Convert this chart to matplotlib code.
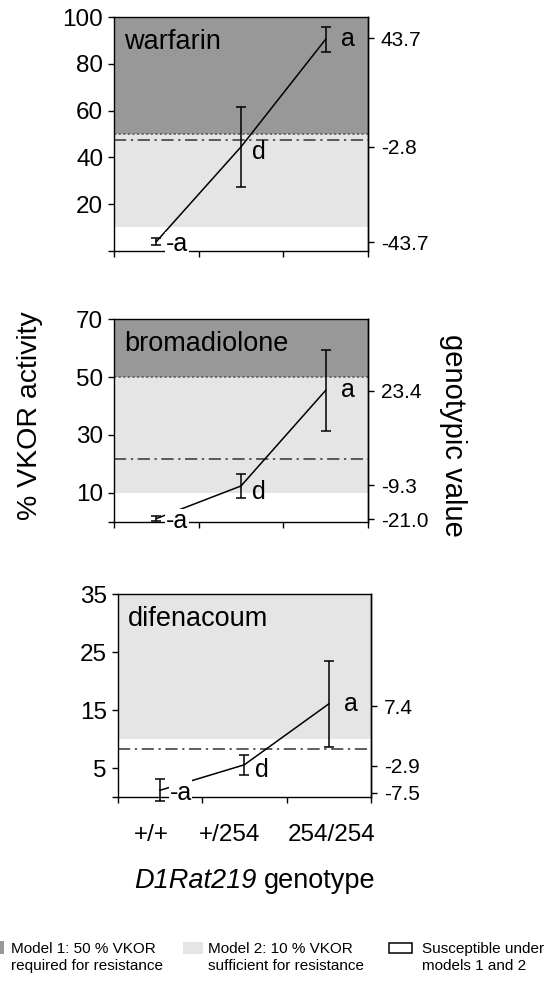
import numpy as np
import matplotlib.pyplot as plt
from matplotlib.patches import Rectangle

plt.rcParams['font.family'] = ['Liberation Sans', 'DejaVu Sans']

# data
genotypes = ['+/+', '+/254', '254/254']
drugs = ['warfarin', 'bromadiolone', 'difenacoum']
vkor_mean = [[3.9, 44.5, 90.6], [1.0, 12.3, 45.4], [1.2, 5.6, 16.1]]
vkor_err = [[1.5, 17.0, 5.4], [0.8, 4.3, 14.0], [1.9, 1.7, 7.4]]
midpoint = [47.3, 21.8, 8.3]
genotypic_value = [[-43.7, -2.8, 43.7], [-21.0, -9.3, 23.4], [-7.5, -2.9, 7.4]]
effect_labels = ['-a', 'd', 'a']
y_max = [100, 70, 35]
y_ticks = [[0, 20, 40, 60, 80, 100], [0, 10, 30, 50, 70], [0, 5, 15, 25, 35]]
model1_threshold = 50
model2_threshold = 10
legend_labels = ['Model 1: 50 % VKOR\nrequired for resistance',
                 'Model 2: 10 % VKOR\nsufficient for resistance',
                 'Susceptible under\nmodels 1 and 2']

dark = '#989898'
light = '#e5e5e5'
W, H = 554, 983

fig = plt.figure(figsize=(W / 100, H / 100), dpi=100)

# axes boxes in pixels: left, top, right, bottom
boxes = [[114, 17.3, 368, 250.7], [114, 319.3, 368, 521.5], [117.5, 594.3, 371, 797.3]]
offsets = [(7, -2), (8, -4), (11, 0)]
genotype_label_pos = [0.40, 1.33, 2.53]   # hand-placed in the original

for i, drug in enumerate(drugs):
    l, t, r, b = boxes[i]
    ax = fig.add_axes([l / W, 1 - b / H, (r - l) / W, (b - t) / H])
    ax.set_xlim(0, 3)
    ax.set_ylim(0, y_max[i])

    # resistance zones
    ax.axhspan(model1_threshold, y_max[i], color=dark, lw=0, zorder=0)
    ax.axhspan(model2_threshold, model1_threshold, color=light, lw=0, zorder=0)
    ax.axhline(model1_threshold, color='#555555', ls=(0, (1.5, 1.5)), lw=1.1)
    ax.axhline(midpoint[i], color='#333333', ls=(0, (8, 3, 1.5, 3)), lw=1.1)

    x = np.arange(len(genotypes)) + 0.5
    ax.plot(x, vkor_mean[i], color='k', lw=1.1)
    eb = ax.errorbar(x, vkor_mean[i], yerr=vkor_err[i], fmt='none', ecolor='k',
                     elinewidth=1.1, capsize=3.8, capthick=1.1)
    for art in list(eb.lines[1]) + list(eb.lines[2]):
        art.set_clip_on(False)

    for j in range(3):
        kw = {}
        if j == 0:
            kw['bbox'] = dict(fc='white', ec='none', pad=0.5)
        ax.annotate(effect_labels[j], (x[j], vkor_mean[i][j]), xytext=offsets[j],
                    textcoords='offset points', ha='left', va='center',
                    fontsize=18, zorder=6, **kw)

    ax.annotate(drug, xy=(0, 1), xycoords='axes fraction', xytext=(7.5, -23),
                textcoords='offset points', ha='left', va='baseline', fontsize=19.5)

    ax.set_yticks(y_ticks[i])
    ax.set_yticklabels([''] + [str(v) for v in y_ticks[i][1:]])
    ax.set_xticks([0, 1, 2, 3])
    ax.set_xticklabels([])
    ax.tick_params(direction='out', length=4.3, width=1, labelsize=17.5, pad=3.5)
    for s in ax.spines.values():
        s.set_linewidth(1)

    # right axis: genotypic values
    ax2 = ax.twinx()
    ax2.set_ylim(0, y_max[i])
    ax2.set_yticks([midpoint[i] + g for g in genotypic_value[i]])
    ax2.set_yticklabels([f'{g:.1f}' for g in genotypic_value[i]])
    ax2.tick_params(direction='out', length=4.3, width=1, labelsize=15, pad=5)
    for side in ['left', 'top', 'bottom']:
        ax2.spines[side].set_visible(False)
    ax2.spines['right'].set_linewidth(1)

    if i == 2:
        ax.set_xticks(genotype_label_pos, minor=True)
        ax.set_xticklabels(genotypes, minor=True)
        ax.tick_params(axis='x', which='minor', length=0, pad=19, labelsize=17.5)

fig.text(30 / W, 1 - 416 / H, '% VKOR activity', rotation=90,
         ha='center', va='center', fontsize=20.5)
fig.text(453 / W, 1 - 435 / H, 'genotypic value', rotation=270,
         ha='center', va='center', fontsize=21)
fig.text(257 / W, 1 - 888 / H, 'D1Rat219', style='italic',
         ha='right', va='baseline', fontsize=19.5)
fig.text(264 / W, 1 - 888 / H, 'genotype',
         ha='left', va='baseline', fontsize=19.5)

# legend
swatches = [(-17, 941, 20.5, 13, dark, 'none'),
            (183, 942, 20, 11.5, light, 'none'),
            (388.5, 943, 23.5, 10, 'white', 'black')]
text_x = [11, 208, 422]
for k, (sx, sy, sw, sh, fc, ec) in enumerate(swatches):
    fig.add_artist(Rectangle((sx / W, 1 - (sy + sh) / H), sw / W, sh / H,
                             transform=fig.transFigure, fc=fc, ec=ec, lw=1.1))
    fig.text(text_x[k] / W, 1 - 970 / H, legend_labels[k], ha='left',
             va='baseline', fontsize=11, linespacing=1.3)

plt.savefig('out.png', dpi=100)
